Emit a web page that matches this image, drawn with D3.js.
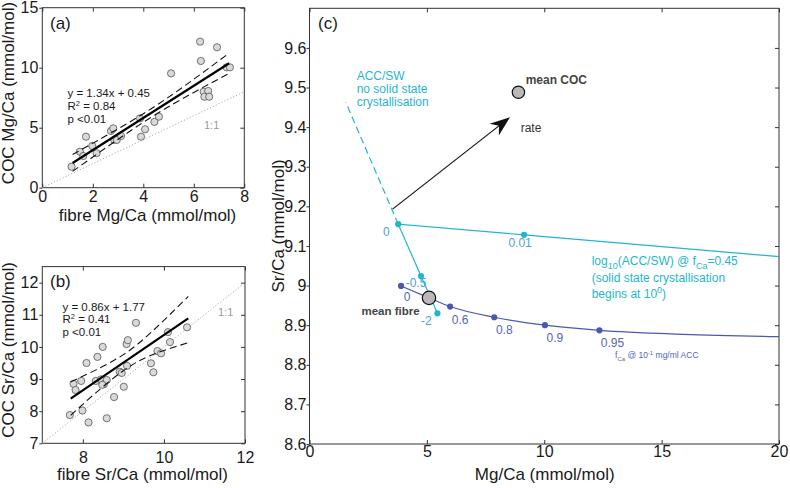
<!DOCTYPE html>
<html>
<head>
<meta charset="utf-8">
<script src="https://cdn.jsdelivr.net/npm/d3@7"></script>
<style>
  body { margin: 0; background: #fff; }
  text { font-family: "Liberation Sans", Arial, Helvetica, sans-serif; }
</style>
</head>
<body>
<svg id="chart" width="790" height="488"></svg>
<script>
// ---- panel (a): Mg/Ca, fibre vs COC ----
var mgFibre = [1.16,1.49,1.62,1.73,1.98,2.15,2.72,2.81,2.85,2.95,3.12,3.91,4.07,3.87,4.44,4.62,5.10,6.25,6.28,6.92,6.39,6.57,6.42,6.61,7.30,7.43];
var mgCoc   = [1.75,3.00,2.64,4.25,3.48,2.87,4.73,4.95,3.98,3.98,4.31,4.25,4.87,5.78,5.48,5.92,9.53,12.17,10.56,11.70,8.00,8.06,7.58,7.58,10.03,10.03];
var mgFitX = [1.2, 7.4];
var mgFitY = [2.06, 10.37];
var mgBandX  = [1.2, 2.5, 4.3, 6.0, 7.4];
var mgBandHi = [2.76, 4.30, 6.56, 9.04, 11.22];
var mgBandLo = [1.36, 3.30, 5.86, 7.94, 9.52];
var mgOneToOne = [0, 8];
var mgStats = ["y = 1.34x + 0.45", "0.84", "p <0.01"];

// ---- panel (b): Sr/Ca, fibre vs COC ----
var srFibre = [7.68,7.99,8.14,8.59,7.77,7.82,7.96,8.09,8.36,8.49,8.32,8.45,8.52,8.59,8.48,8.77,9.01,8.91,8.96,9.09,9.08,9.11,9.31,9.68,9.74,9.84,9.93,10.10,10.15,10.57];
var srCoc   = [7.88,8.02,7.65,7.78,8.85,8.66,8.94,9.50,9.69,10.00,8.94,8.99,8.84,8.97,8.82,8.44,8.76,9.23,9.19,9.41,10.09,10.21,10.75,9.49,9.21,9.87,9.80,10.46,10.15,10.61];
var srFitX = [7.7, 10.6];
var srFitY = [8.39, 10.89];
var srBandX  = [7.7, 8.3, 9.0, 9.7, 10.6];
var srBandHi = [8.91, 9.27, 9.76, 10.47, 11.57];
var srBandLo = [7.87, 8.55, 9.26, 9.75, 10.13];
var srOneToOne = [7, 12];
var srStats = ["y = 0.86x + 1.77", "0.41", "p <0.01"];

// ---- panel (c): model curves ----
var accLineMg = [20, 9.14, 3.78, 4.75, 5.45];
var accLineSr = [9.073, 9.128, 9.155, 9.024, 8.930];
var accDotMg = [9.14, 3.78, 4.75, 5.45];
var accDotSr = [9.128, 9.155, 9.024, 8.930];
var accDotLabels = ["0.01", "0", "-0.5", "-2"];
var accDashMg = [3.78, 1.55];
var accDashSr = [9.155, 9.462];

var fcaCurveMg = [3.90, 5.09, 5.99, 7.87, 10.03, 12.35, 15.92, 20];
var fcaCurveSr = [8.999, 8.969, 8.947, 8.920, 8.900, 8.887, 8.877, 8.871];
var fcaDotMg = [3.90, 5.09, 5.99, 7.87, 10.03, 12.35];
var fcaDotSr = [8.999, 8.969, 8.947, 8.920, 8.900, 8.887];
var fcaDotLabels = ["0", "", "0.6", "0.8", "0.9", "0.95"];

var meanFibre = [5.09, 8.969];
var meanCoc = [8.90, 9.488];
var rateArrow = [[3.54, 9.193], [8.54, 9.425]];

var svg = d3.select("#chart");
var cyan = "#1fb6cf", cyanLab = "#4aa2dc", navy = "#4a59ae", navyLab = "#5564b4";
var axisCol = "#333", tickTxt = "#1a1a1a";

function frame(x, y, o) {
  var g = svg.append("g");
  var xr = x.range(), yr = y.range();
  g.append("g").attr("transform", "translate(0," + yr[0] + ")")
    .call(d3.axisBottom(x).tickValues(o.xt).tickSize(-4).tickPadding(o.xpad).tickFormat(o.xf || d3.format("d")));
  g.append("g").attr("transform", "translate(" + xr[0] + ",0)")
    .call(d3.axisLeft(y).tickValues(o.yt).tickSize(3).tickPadding(o.ypad).tickFormat(o.yf || d3.format("d")));
  g.append("g").attr("transform", "translate(0," + yr[1] + ")")
    .call(d3.axisTop(x).tickValues(o.xt).tickSize(-4).tickFormat(""));
  g.append("g").attr("transform", "translate(" + xr[1] + ",0)")
    .call(d3.axisRight(y).tickValues(o.yt).tickSize(-4).tickFormat(""));
  g.selectAll(".domain").remove();
  g.selectAll(".tick line").attr("stroke", axisCol);
  g.selectAll(".tick text").attr("fill", tickTxt).style("font-size", o.fs + "px")
    .style("font-family", '"Liberation Sans", Arial, sans-serif');
  g.append("rect").attr("x", xr[0]).attr("y", yr[1])
    .attr("width", xr[1] - xr[0]).attr("height", yr[0] - yr[1])
    .attr("fill", "none").attr("stroke", axisCol).attr("stroke-width", 1);
  return g;
}

function label(t, x, y, opts) {
  var el = svg.append("text").attr("x", x).attr("y", y).text(t)
    .attr("font-size", opts.fs).attr("fill", opts.fill || "#1a1a1a")
    .attr("text-anchor", opts.anchor || "start");
  if (opts.bold) el.attr("font-weight", "bold");
  if (opts.rot) el.attr("transform", "rotate(-90," + x + "," + y + ")");
  return el;
}

function scatterPanel(x, y, fib, coc, fitX, fitY, bx, bhi, blo, one, stats, st) {
  var g = svg.append("g");
  var line = d3.line().x(function (d) { return x(d[0]); }).y(function (d) { return y(d[1]); });
  var band = d3.line().curve(d3.curveNatural).x(function (d) { return x(d[0]); }).y(function (d) { return y(d[1]); });
  g.append("path").attr("d", line([[one[0], one[0]], [one[1], one[1]]]))
    .attr("stroke", "#aaa").attr("stroke-width", 1).attr("stroke-dasharray", "1.2,2").attr("fill", "none");
  g.selectAll("circle").data(d3.zip(fib, coc)).enter().append("circle")
    .attr("cx", function (d) { return x(d[0]); }).attr("cy", function (d) { return y(d[1]); })
    .attr("r", 3.6).attr("fill", "#d9d9d9").attr("stroke", "#555").attr("stroke-width", 0.8);
  [bhi, blo].forEach(function (b) {
    g.append("path").attr("d", band(d3.zip(bx, b)))
      .attr("stroke", "#111").attr("stroke-width", 1.1).attr("stroke-dasharray", "7,4").attr("fill", "none");
  });
  g.append("path").attr("d", line(d3.zip(fitX, fitY)))
    .attr("stroke", "#000").attr("stroke-width", 2.2).attr("fill", "none");

  label(stats[0], st.x, st.y, { fs: 11.5 });
  var r2 = label("R", st.x, st.y + st.dy, { fs: 11.5 });
  r2.append("tspan").attr("dy", -4).attr("font-size", 7.5).text("2");
  r2.append("tspan").attr("dy", 4).text(" = " + stats[1]);
  label(stats[2], st.x, st.y + 2 * st.dy, { fs: 11.5 });
  label("1:1", st.ox, st.oy, { fs: 11, fill: "#9a9a9a" });
}

// ---- (a)
var xa = d3.scaleLinear().domain([0, 8]).range([42.3, 244.3]);
var ya = d3.scaleLinear().domain([0, 15]).range([187.7, 7.7]);
frame(xa, ya, { xt: [0, 2, 4, 6, 8], yt: [0, 5, 10, 15], xpad: 3, ypad: 1, fs: 16 });
scatterPanel(xa, ya, mgFibre, mgCoc, mgFitX, mgFitY, mgBandX, mgBandHi, mgBandLo, mgOneToOne, mgStats,
  { x: 67.5, y: 96.5, dy: 13, ox: 204, oy: 128.5 });
label("(a)", 50, 29, { fs: 17 });
label("fibre Mg/Ca (mmol/mol)", 147.5, 221, { fs: 17, anchor: "middle" });
label("COC Mg/Ca (mmol/mol)", 14, 93, { fs: 17, anchor: "middle", rot: true });

// ---- (b)
var xb = d3.scaleLinear().domain([7, 12]).range([42.3, 245]);
var yb = d3.scaleLinear().domain([7, 12.5]).range([443.3, 266.6]);
frame(xb, yb, { xt: [8, 10, 12], yt: [7, 8, 9, 10, 11, 12], xpad: 8, ypad: 1, fs: 16 });
scatterPanel(xb, yb, srFibre, srCoc, srFitX, srFitY, srBandX, srBandHi, srBandLo, srOneToOne, srStats,
  { x: 62.5, y: 311, dy: 12.3, ox: 218, oy: 316 });
label("(b)", 50, 287, { fs: 17 });
label("fibre Sr/Ca (mmol/mol)", 142.5, 480, { fs: 17, anchor: "middle" });
label("COC Sr/Ca (mmol/mol)", 14, 350, { fs: 17, anchor: "middle", rot: true });

// ---- (c)
var xc = d3.scaleLinear().domain([0, 20]).range([309.5, 779]);
var yc = d3.scaleLinear().domain([8.6, 9.7]).range([444, 8.3]);
var fmtSr = function (d) { return d3.format(".1f")(d).replace(/\.0$/, ""); };
frame(xc, yc, { xt: [0, 5, 10, 15, 20], yt: d3.range(86, 97).map(function (d) { return d / 10; }),
  xpad: 2, ypad: 0, fs: 16, yf: fmtSr });
label("(c)", 318, 29, { fs: 17 });
label("Mg/Ca (mmol/mol)", 544.7, 480, { fs: 17, anchor: "middle" });
label("Sr/Ca (mmol/mol)", 284, 226, { fs: 17, anchor: "middle", rot: true });

var gc = svg.append("g");
var lc = d3.line().x(function (d) { return xc(d[0]); }).y(function (d) { return yc(d[1]); });

// dashed ACC/SW extension
gc.append("path").attr("d", lc(d3.zip(accDashMg, accDashSr)))
  .attr("stroke", cyan).attr("stroke-width", 1.2).attr("stroke-dasharray", "7,4").attr("fill", "none");
// ACC/SW solid polyline
gc.append("path").attr("d", lc(d3.zip(accLineMg, accLineSr)))
  .attr("stroke", cyan).attr("stroke-width", 1.2).attr("fill", "none");
// fCa curve
gc.append("path").attr("d", lc.curve(d3.curveMonotoneX)(d3.zip(fcaCurveMg, fcaCurveSr)))
  .attr("stroke", navy).attr("stroke-width", 1.2).attr("fill", "none");
lc.curve(d3.curveLinear);

gc.selectAll(".fdot").data(d3.zip(fcaDotMg, fcaDotSr)).enter().append("circle")
  .attr("cx", function (d) { return xc(d[0]); }).attr("cy", function (d) { return yc(d[1]); })
  .attr("r", 3.1).attr("fill", navy);
gc.selectAll(".adot").data(d3.zip(accDotMg, accDotSr)).enter().append("circle")
  .attr("cx", function (d) { return xc(d[0]); }).attr("cy", function (d) { return yc(d[1]); })
  .attr("r", 3.1).attr("fill", cyan);

// point labels (offsets in px)
var accOff = [[-4, 12], [-12, 12], [-5, 11], [-11, 12]];
accDotLabels.forEach(function (t, i) {
  label(t, xc(accDotMg[i]) + accOff[i][0], yc(accDotSr[i]) + accOff[i][1],
    { fs: 12, fill: cyanLab, anchor: "middle" });
});
var fcaOff = [[6, 15.5], [0, 0], [10, 17], [10, 17], [10, 17], [13, 17]];
fcaDotLabels.forEach(function (t, i) {
  if (!t) return;
  label(t, xc(fcaDotMg[i]) + fcaOff[i][0], yc(fcaDotSr[i]) + fcaOff[i][1],
    { fs: 12, fill: navyLab, anchor: "middle" });
});

// rate arrow
var p0 = [xc(rateArrow[0][0]), yc(rateArrow[0][1])], p1 = [xc(rateArrow[1][0]), yc(rateArrow[1][1])];
var ang = Math.atan2(p1[1] - p0[1], p1[0] - p0[0]);
function pt(d, w) {
  return [p1[0] - d * Math.cos(ang) - w * Math.sin(ang), p1[1] - d * Math.sin(ang) + w * Math.cos(ang)];
}
gc.append("line").attr("x1", p0[0]).attr("y1", p0[1])
  .attr("x2", pt(12, 0)[0]).attr("y2", pt(12, 0)[1]).attr("stroke", "#111").attr("stroke-width", 1.2);
gc.append("path").attr("d", "M" + [p1, pt(20, 7.5), pt(14, 0), pt(20, -7.5)].join("L") + "Z").attr("fill", "#111");

// means
[meanFibre, meanCoc].forEach(function (m, i) {
  gc.append("circle").attr("cx", xc(m[0])).attr("cy", yc(m[1])).attr("r", i ? 6.2 : 6.7)
    .attr("fill", "#b9b9b9").attr("stroke", "#111").attr("stroke-width", 1.2);
});
label("mean COC", 525.7, 83.5, { fs: 12, bold: true, fill: "#444" });
label("rate", 520.7, 131.5, { fs: 12, fill: "#333" });
label("mean fibre", 361.5, 315, { fs: 11.5, bold: true, fill: "#444" });

// text annotations
label("ACC/SW", 356.7, 79.5, { fs: 12, fill: cyan });
label("no solid state", 356.7, 93, { fs: 12, fill: cyan });
label("crystallisation", 356.7, 106.3, { fs: 12, fill: cyan });

var t1 = label("log", 591.7, 265, { fs: 12, fill: cyan });
t1.append("tspan").attr("dy", 4).attr("font-size", 9).text("10");
t1.append("tspan").attr("dy", -4).text("(ACC/SW) @ f");
t1.append("tspan").attr("dy", 4).attr("font-size", 9).text("Ca");
t1.append("tspan").attr("dy", -4).text("=0.45");
label("(solid state crystallisation", 591.7, 281.5, { fs: 12, fill: cyan });
var t3 = label("begins at 10", 591.7, 297.5, { fs: 12, fill: cyan });
t3.append("tspan").attr("dy", -5).attr("font-size", 9).text("0");
t3.append("tspan").attr("dy", 5).text(")");

var t4 = label("f", 615, 358, { fs: 8.5, fill: navyLab });
t4.append("tspan").attr("dy", 2.5).attr("font-size", 6).text("Ca");
t4.append("tspan").attr("dy", -2.5).text(" @ 10");
t4.append("tspan").attr("dy", -3.5).attr("font-size", 6).text("-1");
t4.append("tspan").attr("dy", 3.5).text(" mg/ml ACC");
</script>
</body>
</html>
